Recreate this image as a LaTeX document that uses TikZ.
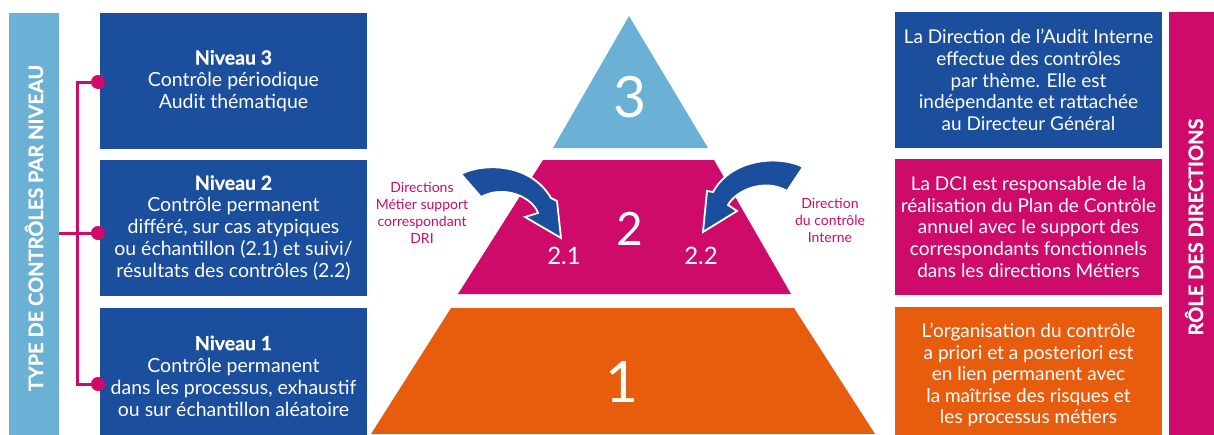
\documentclass[tikz,border=0pt]{standalone}
\usepackage{fontspec}
\setmainfont{Lato}[BoldFeatures={FakeBold=0.6}]
\usetikzlibrary{positioning}

\definecolor{bluelight}{HTML}{6AB1D5}
\definecolor{bluedark}{HTML}{1B4F9E}
\definecolor{pinkdir}{HTML}{CE0B6B}
\definecolor{orangelvl}{HTML}{E85D0D}

\tikzset{
	levelbox/.style={fill=bluedark, text=white, minimum width=267pt, minimum height=136pt,
		inner sep=0pt, align=center, font=\fontsize{19.5}{22}\selectfont},
	rolebox/.style={text=white, minimum width=267pt, minimum height=136pt,
		inner sep=0pt, align=center, font=\fontsize{19}{21.6}\selectfont},
	sidebar/.style={text=white, minimum width=50pt, minimum height=430pt, inner sep=0pt,
		font=\fontsize{20}{24}\selectfont\bfseries},
	pinkdot/.style={circle, fill=pinkdir, minimum size=14pt, inner sep=0pt},
	link/.style={draw=pinkdir, line width=3pt},
	bignum/.style={text=white, inner sep=0pt, font=\fontsize{57}{60}\selectfont},
	subnum/.style={text=white, inner sep=0pt, font=\fontsize{24}{26}\selectfont},
	dirlabel/.style={text=pinkdir, align=center, inner sep=0pt, font=\fontsize{14}{17}\selectfont},
	bendarrow/.style={fill=bluedark, draw=white, line width=1.8pt, line join=miter}
}

\begin{document}
\begin{tikzpicture}[x=1pt,y=-1pt]
	\clip (0,0) rectangle (1214,434);

	\node[sidebar, fill=bluelight] (typebar) at (34,228) {\rotatebox{90}{TYPE DE CONTRÔLES PAR NIVEAU}};
	\node[sidebar, fill=pinkdir] (rolebar) at (1194,227) {\rotatebox{90}{RÔLE DES DIRECTIONS}};

	\node[levelbox] (niv3) at (233.5,81) {\textbf{Niveau 3}\\Contrôle périodique\\Audit thématique};
	\node[levelbox] (niv2) at (233.5,228) {\textbf{Niveau 2}\\Contrôle permanent\\différé, sur cas atypiques\\ou échantillon (2.1) et suivi/\\résultats des contrôles (2.2)};
	\node[levelbox] (niv1) at (233.5,376) {\textbf{Niveau 1}\\Contrôle permanent\\dans les processus, exhaustif\\ou sur échantillon aléatoire};

	\foreach \k/\dy in {3/82, 2/233, 1/384}
		\node[pinkdot] (dot\k) at (98,\dy) {};
	\draw[link] (dot3.center) -| ([xshift=-21pt]dot2.center) |- (dot1.center);
	\draw[link] (typebar.east |- dot2) -- (dot2.center);

	\node[rolebox, fill=bluedark] (role3) at (1028.5,80) {La Direction de l’Audit Interne\\effectue des contrôles\\par thème. Elle est\\indépendante et rattachée\\au Directeur Général};
	\node[rolebox, fill=pinkdir] (role2) at (1028.5,227) {La DCI est responsable de la\\réalisation du Plan de Contrôle\\annuel avec le support des\\correspondants fonctionnels\\dans les directions Métiers};
	\node[rolebox, fill=orangelvl] (role1) at (1028.5,375) {L’organisation du contrôle\\a priori et a posteriori est\\en lien permanent avec\\la maîtrise des risques et\\les processus métiers};

	\fill[bluelight] (629,16) -- (708,148) -- (553,148) -- cycle;
	\fill[pinkdir] (543,160) -- (714,160) -- (791,294) -- (458,294) -- cycle;
	\fill[orangelvl] (451,308) -- (794,308) -- (875,434) -- (371,434) -- cycle;

	\node[bignum] (num3) at (630,97) {3};
	\node[bignum, font=\fontsize{46}{50}\selectfont] (num2) at (630,229) {2};
	\node[bignum] (num1) at (622,382) {1};
	\node[subnum] (num21) at (564,256) {2.1};
	\node[subnum] (num22) at (701,256) {2.2};

	\draw[bendarrow] (461,174) .. controls (482,163) and (530,162) .. (551,198)
		-- (557,201) -- (561,238) -- (525,217) -- (538,213)
		.. controls (533,198) and (505,184) .. (481,197) -- cycle;
	\draw[bendarrow] (803,167) .. controls (783,156) and (733,156) .. (713,192)
		-- (707,191) -- (703,232) -- (737,211) -- (728,205)
		.. controls (736,190) and (765,178) .. (787,191) -- cycle;

	\node[dirlabel] (dirmetier) at (422,213) {Directions\\Métier support\\correspondant\\DRI};
	\node[dirlabel] (dirinterne) at (830,220) {Direction\\du contrôle\\Interne};
\end{tikzpicture}
\end{document}
